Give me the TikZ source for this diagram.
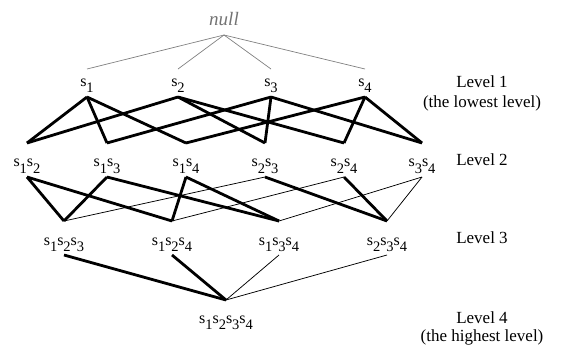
\documentclass[tikz,border=0pt]{standalone}
\usepackage{fontspec}
\setmainfont{Liberation Serif}
% s with a lowered index, as in s_1
\newcommand\ssub[1]{\raisebox{-6.5pt}{\fontsize{14.5}{14.5}\selectfont #1}}
\newcommand\sv[1]{s\ssub{#1}}
\begin{document}
\begin{tikzpicture}[x=1pt,y=-1pt,
  every node/.style={inner sep=0pt,outer sep=0pt},
  item/.style={anchor=base,font=\fontsize{16}{16}\selectfont},
  lvone/.style={item,text height=17pt,text depth=11pt},
  lvtwo/.style={item,text height=23.5pt,text depth=10.5pt},
  lvthree/.style={item,text height=24pt,text depth=10pt},
  lvfour/.style={item,text height=23pt,text depth=6pt},
  levellabel/.style={anchor=base,font=\fontsize{17}{17}\selectfont},
  rootedge/.style={draw=black!50,line width=0.7pt},
  heavy/.style={draw=black,line width=2.8pt,line join=miter,line cap=butt},
  light/.style={draw=black,line width=0.75pt}]
\useasboundingbox (0,0) rectangle (567,346);

% root
\node[anchor=base,text depth=10pt,text=black!55,
      font=\fontsize{19}{19}\selectfont\itshape] (null) at (224,25) {null};

% level 1
\node[lvone] (a1) at (87,86)  {\sv{1}};
\node[lvone] (a2) at (178,86) {\sv{2}};
\node[lvone] (a3) at (271,86) {\sv{3}};
\node[lvone] (a4) at (365,86) {\sv{4}};

% level 2
\node[lvtwo] (b12) at (27,166.5)  {\sv{1}\sv{2}};
\node[lvtwo] (b13) at (107,166.5) {\sv{1}\sv{3}};
\node[lvtwo] (b14) at (186,166.5) {\sv{1}\sv{4}};
\node[lvtwo] (b23) at (265,166.5) {\sv{2}\sv{3}};
\node[lvtwo] (b24) at (344,166.5) {\sv{2}\sv{4}};
\node[lvtwo] (b34) at (422,166.5) {\sv{3}\sv{4}};

% level 3
\node[lvthree] (c123) at (64,245)  {\sv{1}\sv{2}\sv{3}};
\node[lvthree] (c124) at (172,245) {\sv{1}\sv{2}\sv{4}};
\node[lvthree] (c134) at (279,245) {\sv{1}\sv{3}\sv{4}};
\node[lvthree] (c234) at (387,245) {\sv{2}\sv{3}\sv{4}};

% level 4
\node[lvfour] (d1234) at (226,323) {\sv{1}\sv{2}\sv{3}\sv{4}};

% level captions
\node[levellabel] (capA)  at (482,87)    {Level 1};
\node[levellabel] (capAn) at (482,107)   {(the lowest level)};
\node[levellabel] (capB)  at (482,165)   {Level 2};
\node[levellabel] (capC)  at (482,243.5) {Level 3};
\node[levellabel] (capD)  at (482,323.3) {Level 4};
\node[levellabel] (capDn) at (482,341)   {(the highest level)};

% root to level 1
\foreach \n in {a1,a2,a3,a4}
  \draw[rootedge] (null.south) -- (\n.north);

% level 1 to level 2
\foreach \u/\v in {a1/b12,a1/b13,a1/b14,a2/b12,a2/b23,a2/b24,
                   a3/b13,a3/b23,a3/b34,a4/b14,a4/b24,a4/b34}
  \draw[heavy] (\u.south) -- (\v.north);

% level 2 to level 3
\foreach \u/\v in {b12/c123,b13/c123,b12/c124,b14/c124,
                   b13/c134,b14/c134,b23/c234,b24/c234}
  \draw[heavy] (\u.south) -- (\v.north);
\foreach \u/\v in {b23/c123,b24/c124,b34/c134,b34/c234}
  \draw[light] (\u.south) -- (\v.north);

% level 3 to level 4
\foreach \u in {c123,c124}
  \draw[heavy] (\u.south) -- (d1234.north);
\foreach \u in {c134,c234}
  \draw[light] (\u.south) -- (d1234.north);
\end{tikzpicture}
\end{document}
